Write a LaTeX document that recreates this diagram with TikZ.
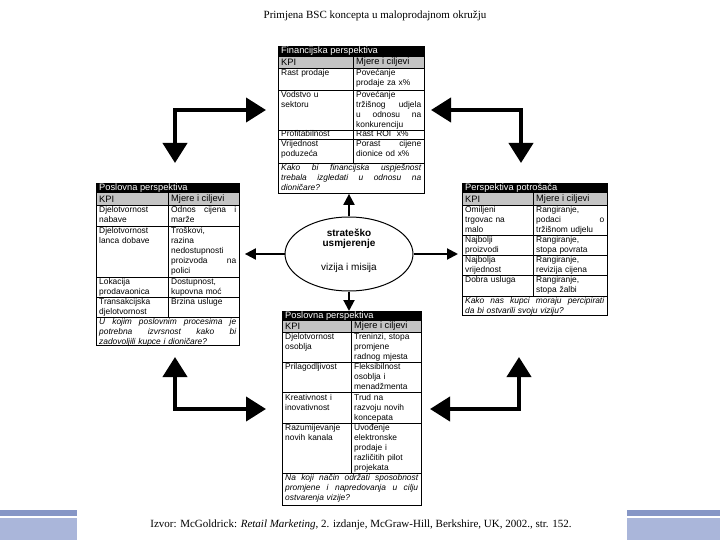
\documentclass[tikz,border=0pt]{standalone}
\usepackage{fontspec}
\setmainfont{Liberation Serif}
\setsansfont{Liberation Sans}
\usetikzlibrary{arrows.meta,shapes.geometric}
\definecolor{kpigray}{HTML}{C4C4C4}
\definecolor{bardark}{HTML}{8696C6}
\definecolor{barlight}{HTML}{AAB6DA}
\setlength{\parindent}{0pt}
\begin{document}
\begin{tikzpicture}[x=1pt,y=-1pt,
  tline/.style={line width=0.7pt, draw=black},
  tbox/.style={draw=black, line width=0.9pt, anchor=north west, inner sep=0pt},
  hdr/.style={anchor=west, inner sep=0pt, text=white, font=\sffamily\fontsize{9.3}{10}\selectfont},
  kpi/.style={anchor=west, inner sep=0pt, font=\sffamily\fontsize{9.3}{10}\selectfont},
  cell/.style={anchor=north west, inner sep=0pt, text width=#1, align=left, font=\sffamily\fontsize{8.4}{10}\selectfont},
  qcell/.style={anchor=north west, inner sep=0pt, text width=#1, align=left, font=\sffamily\itshape\fontsize{8.4}{10}\selectfont},
  bigarrow/.style={line width=4pt, {Triangle[length=20pt,width=24pt]}-{Triangle[length=20pt,width=24pt]}},
  midarrow/.style={line width=2pt, -{Triangle[length=11pt,width=11pt]}},
  ctext/.style={inner sep=0pt, font=\sffamily\fontsize{10}{12}\selectfont},
]
\useasboundingbox (0,0) rectangle (720,540);
\fill[white] (0,0) rectangle (720,540);

% title and source
\node[font=\rmfamily\fontsize{11}{13}\selectfont] (title) at (375,16) {Primjena BSC koncepta u maloprodajnom okružju};
\node[font=\rmfamily\fontsize{11}{13}\selectfont] (src) at (361,525) {Izvor: McGoldrick: \textit{Retail Marketing}, 2. izdanje, McGraw-Hill, Berkshire, UK, 2002., str. 152.};

% decorative bars
\fill[bardark] (0,510) rectangle (77,516);
\fill[barlight] (0,518) rectangle (77,540);
\fill[bardark] (627,510) rectangle (720,516);
\fill[barlight] (627,518) rectangle (720,540);

% ---------------- Financijska perspektiva ----------------
\fill[black] (278,46) rectangle (424,57);
\fill[kpigray] (278,57) rectangle (424,68);
\foreach \y in {68,90,130,139,163} \draw[tline] (278,\y) -- (424,\y);
\draw[tline] (353,57) -- (353,163);
\node[tbox, minimum width=146pt, minimum height=147pt] (fin) at (278,46) {};
\node[hdr] (finh) at (281,51.5) {Financijska perspektiva};
\node[kpi] (fink) at (281,62.5) {KPI};
\node[kpi] (finm) at (356,62.5) {Mjere i ciljevi};
\node[cell=68pt] (f1a) at (281,69.5) {Rast prodaje};
\node[cell=65pt] (f1b) at (356,69.5) {Povećanje\\prodaje za x\%};
\node[cell=68pt] (f2a) at (281,91.5) {Vodstvo u\\sektoru};
\node[cell=65pt] (f2b) at (356,91.5) {Povećanje\\tržišnog\hfill udjela\\u\hfill odnosu\hfill na\\konkurenciju};
\node[cell=68pt] (f3a) at (281,130.7) {Profitabilnost};
\node[cell=65pt] (f3b) at (356,130.7) {Rast ROI\ \ x\%};
\node[cell=68pt] (f4a) at (281,140.5) {Vrijednost\\poduzeća};
\node[cell=65pt] (f4b) at (356,140.5) {Porast\hfill cijene\\dionice od x\%};
\node[qcell=140pt] (f5) at (281,164.5) {Kako\hfill bi\hfill financijska\hfill uspješnost\\trebala\hfill izgledati\hfill u\hfill odnosu\hfill na\\dioničare?};

% ---------------- Poslovna perspektiva (left) ----------------
\fill[black] (96,183) rectangle (239,193);
\fill[kpigray] (96,193) rectangle (239,205);
\foreach \y in {205,226,277,297,317} \draw[tline] (96,\y) -- (239,\y);
\draw[tline] (168,193) -- (168,317);
\node[tbox, minimum width=143pt, minimum height=162pt] (lft) at (96,183) {};
\node[hdr] (lfth) at (99,188) {Poslovna perspektiva};
\node[kpi] (lftk) at (99,199) {KPI};
\node[kpi] (lftm) at (171,199) {Mjere i ciljevi};
\node[cell=66pt] (l1a) at (99,206.5) {Djelotvornost\\nabave};
\node[cell=65pt] (l1b) at (171,206.5) {Odnos\hfill cijena\hfill i\\marže};
\node[cell=66pt] (l2a) at (99,227.5) {Djelotvornost\\lanca dobave};
\node[cell=65pt] (l2b) at (171,227.5) {Troškovi,\\razina\\nedostupnosti\\proizvoda\hfill na\\polici};
\node[cell=66pt] (l3a) at (99,278.3) {Lokacija\\prodavaonica};
\node[cell=65pt] (l3b) at (171,278.3) {Dostupnost,\\kupovna moć};
\node[cell=66pt] (l4a) at (99,298.3) {Transakcijska\\djelotvornost};
\node[cell=65pt] (l4b) at (171,298.3) {Brzina usluge};
\node[qcell=137pt] (l5) at (99,318.3) {U\hfill kojim\hfill poslovnim\hfill procesima\hfill je\\potrebna\hfill izvrsnost\hfill kako\hfill bi\\zadovoljili kupce i dioničare?};

% ---------------- Perspektiva potrošača (right) ----------------
\fill[black] (462,183) rectangle (607,193);
\fill[kpigray] (462,193) rectangle (607,205);
\foreach \y in {205,235,255,275,296} \draw[tline] (462,\y) -- (607,\y);
\draw[tline] (533,193) -- (533,296);
\node[tbox, minimum width=145pt, minimum height=132pt] (rgt) at (462,183) {};
\node[hdr] (rgth) at (465,188) {Perspektiva potrošača};
\node[kpi] (rgtk) at (465,199) {KPI};
\node[kpi] (rgtm) at (536,199) {Mjere i ciljevi};
\node[cell=65pt] (r1a) at (465,206.3) {Omiljeni\\trgovac na\\malo};
\node[cell=68pt] (r1b) at (536,206.3) {Rangiranje,\\podaci\hfill o\\tržišnom udjelu};
\node[cell=65pt] (r2a) at (465,236.3) {Najbolji\\proizvodi};
\node[cell=68pt] (r2b) at (536,236.3) {Rangiranje,\\stopa povrata};
\node[cell=65pt] (r3a) at (465,256.3) {Najbolja\\vrijednost};
\node[cell=68pt] (r3b) at (536,256.3) {Rangiranje,\\revizija cijena};
\node[cell=65pt] (r4a) at (465,276.3) {Dobra usluga};
\node[cell=68pt] (r4b) at (536,276.3) {Rangiranje,\\stopa žalbi};
\node[qcell=139pt] (r5) at (465,297) {Kako\hfill nas\hfill kupci\hfill moraju\hfill percipirati\\da bi ostvarili svoju viziju?};

% ---------------- Poslovna perspektiva (bottom) ----------------
\fill[black] (282,311) rectangle (421,321);
\fill[kpigray] (282,321) rectangle (421,332);
\foreach \y in {332,362,392,423,473} \draw[tline] (282,\y) -- (421,\y);
\draw[tline] (351,321) -- (351,473);
\node[tbox, minimum width=139pt, minimum height=194pt] (bot) at (282,311) {};
\node[hdr] (both) at (285,316) {Poslovna perspektiva};
\node[kpi] (botk) at (285,326.5) {KPI};
\node[kpi] (botm) at (354,326.5) {Mjere i ciljevi};
\node[cell=63pt] (b1a) at (285,333.5) {Djelotvornost\\osoblja};
\node[cell=64pt] (b1b) at (354,333.5) {Treninzi, stopa\\promjene\\radnog mjesta};
\node[cell=63pt] (b2a) at (285,363.5) {Prilagodljivost};
\node[cell=64pt] (b2b) at (354,363.5) {Fleksibilnost\\osoblja i\\menadžmenta};
\node[cell=63pt] (b3a) at (285,394.5) {Kreativnost i\\inovativnost};
\node[cell=64pt] (b3b) at (354,394.5) {Trud na\\razvoju novih\\koncepata};
\node[cell=63pt] (b4a) at (285,424.5) {Razumijevanje\\novih kanala};
\node[cell=64pt] (b4b) at (354,424.5) {Uvođenje\\elektronske\\prodaje i\\različitih pilot\\projekata};
\node[qcell=133pt] (b5) at (285,474.5) {Na\hfill koji\hfill način\hfill održati\hfill sposobnost\\promjene\hfill i\hfill napredovanja\hfill u\hfill cilju\\ostvarenja vizije?};

% ---------------- centre ellipse ----------------
\node[draw, ellipse, line width=1pt, minimum width=128pt, minimum height=74pt, inner sep=0pt] (ell) at (349,254) {};
\node[ctext, font=\sffamily\bfseries\fontsize{10}{12}\selectfont] (s1) at (349,233) {strateško};
\node[ctext, font=\sffamily\bfseries\fontsize{10}{12}\selectfont] (s2) at (349,244) {usmjerenje};
\node[ctext] (s3) at (349,268) {vizija i misija};

\draw[midarrow] (ell.north) -- (ell.north |- fin.south);
\draw[midarrow] (ell.south) -- (ell.south |- bot.north);
\draw[midarrow, shorten >=5pt] (ell.west) -- (ell.west -| lft.east);
\draw[midarrow, shorten >=4pt] (ell.east) -- (ell.east -| rgt.west);

% ---------------- corner arrows ----------------
\coordinate (tl1) at (266,110);
\coordinate (tl2) at (175,163);
\coordinate (tr1) at (431,110);
\coordinate (tr2) at (521,163);
\coordinate (bl1) at (175,357);
\coordinate (bl2) at (266,409);
\coordinate (br1) at (519,357);
\coordinate (br2) at (430,409);
\draw[bigarrow] (tl1) -| (tl2);
\draw[bigarrow] (tr1) -| (tr2);
\draw[bigarrow] (bl1) |- (bl2);
\draw[bigarrow] (br1) |- (br2);
\end{tikzpicture}
\end{document}
